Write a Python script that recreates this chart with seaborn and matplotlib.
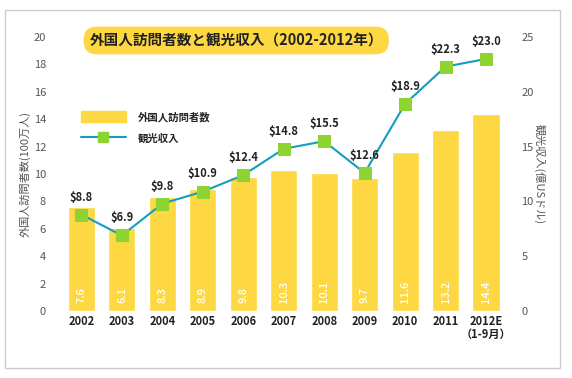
import numpy as np
import matplotlib
matplotlib.use("Agg")
import matplotlib.pyplot as plt
import matplotlib.patches as mpatches
import matplotlib.lines as mlines
import seaborn as sns

# Datos
years = ["2002", "2003", "2004", "2005", "2006", "2007", "2008", "2009", "2010", "2011", "2012E\n（1-9月）"]
visitors = [7.6, 6.1, 8.3, 8.9, 9.8, 10.3, 10.1, 9.7, 11.6, 13.2, 14.4]
revenue = [8.8, 6.9, 9.8, 10.9, 12.4, 14.8, 15.5, 12.6, 18.9, 22.3, 23.0]

sns.set_style("white")
plt.rcParams["font.family"] = ["Noto Sans CJK JP", "DejaVu Sans"]

yellow = "#FDD843"
teal = "#119FBE"
green = "#8DD332"
gray = "#555555"

fig = plt.figure(figsize=(5.72, 3.78), dpi=100)
ax = fig.add_axes([0.1, 0.177, 0.792, 0.725])

sns.barplot(x=years, y=visitors, color=yellow, width=0.67, saturation=1, ax=ax)
ax.set_ylim(0, 20)
ax.set_xlim(-0.6, 10.6)
ax.set_yticks(range(0, 21, 2))
ax.tick_params(axis="y", colors=gray, labelsize=8, length=0, pad=8)
ax.tick_params(axis="x", labelsize=8, length=0, pad=3, colors="#222222")
for lbl in ax.get_xticklabels():
    lbl.set_fontweight("bold")
    lbl.set_linespacing(1.0)
ax.set_ylabel("外国人訪問者数(100万人)", color=gray, fontsize=8, labelpad=2)
ax.set_xlabel("")

# Valores dentro de las barras
for i, v in enumerate(visitors):
    ax.text(i, 0.6, f"{v}", rotation=90, color="white", ha="center", va="bottom",
            fontsize=8, fontweight="medium")

ax2 = ax.twinx()
x = np.arange(len(years))
sns.lineplot(x=x, y=revenue, color=teal, linewidth=1.5, marker="s", markersize=8.5,
             markerfacecolor=green, markeredgecolor=green, ax=ax2)
ax2.set_ylim(0, 25)
ax2.set_yticks(range(0, 26, 5))
ax2.tick_params(axis="y", colors=gray, labelsize=8, length=0, pad=8)
ax2.set_ylabel("観光収入(億USドル)", color=gray, fontsize=8, rotation=270, labelpad=8)

for i, r in enumerate(revenue):
    ax2.annotate(f"${r:.1f}", (i, r), xytext=(0, 8), textcoords="offset points",
                 ha="center", va="bottom", fontsize=8, fontweight="bold", color="#222222")

for a in (ax, ax2):
    for s in a.spines.values():
        s.set_visible(False)

# Leyenda
h1 = mpatches.Patch(color=yellow, label="外国人訪問者数")
h2 = mlines.Line2D([], [], color=teal, linewidth=1.5, marker="s", markersize=7,
                   markerfacecolor=green, markeredgecolor=green, label="観光収入")
fig.legend(handles=[h1, h2], loc="upper left", bbox_to_anchor=(0.125, 0.73),
           frameon=False, handlelength=4.3, handleheight=1.2,
           labelspacing=1.0, handletextpad=1.2, prop={"weight": "bold", "size": 7.5})

# Titulo
fig.text(0.413, 0.893, "外国人訪問者数と観光収入（2002-2012年）", ha="center", va="center",
         fontsize=10.5, fontweight="bold", color="#222222",
         bbox=dict(boxstyle="round,pad=0.4,rounding_size=0.9", fc=yellow, ec="none"))

# Borde
fig.patches.append(mpatches.Rectangle((0.009, 0.026), 0.97, 0.947, transform=fig.transFigure,
                                      fill=False, ec="#CCCCCC", lw=1))

fig.savefig("out.png", dpi=100)
